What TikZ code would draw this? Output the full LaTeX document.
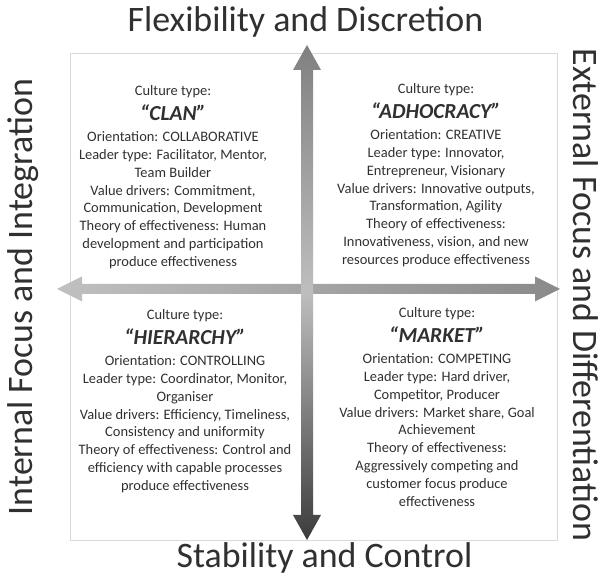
\documentclass[tikz,border=0pt]{standalone}
\usepackage{fontspec}
\setmainfont{Carlito}
\definecolor{axtop}{HTML}{808080}
\definecolor{axmid}{HTML}{BEBEBE}
\definecolor{axbot}{HTML}{3C3C3C}
\definecolor{axleft}{HTML}{C0C0C0}
\definecolor{axright}{HTML}{8A8A8A}
\definecolor{txt}{HTML}{303030}
\tikzset{
  axislabel/.style={font=\fontsize{36}{40}\selectfont, text=txt, inner sep=0pt, anchor=base},
  quad/.style={align=center, font=\fontsize{14.5}{18}\selectfont, text=txt, inner sep=0pt, anchor=north},
}
\newcommand{\ctype}[1]{{\fontsize{21.5}{22}\selectfont\bfseries\itshape “#1”}}
\begin{document}
\begin{tikzpicture}[x=1bp,y=1bp]
\useasboundingbox (0,0) rectangle (600,577);
\draw[color=black!15, line width=0.8bp] (70,37) rectangle (557,524);

\coordinate (flex) at (307,532);
\coordinate (stab) at (307,37);
\coordinate (intl) at (57,288);
\coordinate (extl) at (560,288);

\shade[left color=axleft, right color=axright]
  (intl) -- ++(25,12.5) -- ++(0,-7.5) -- ++(453,0) -- ++(0,7.5) -- (extl)
  -- ++(-25,-12.5) -- ++(0,7.5) -- ++(-453,0) -- ++(0,-7.5) -- cycle;
\shade[top color=axtop, bottom color=axbot, middle color=axmid]
  (flex) -- ++(14,-25) -- ++(-8,0) -- ++(0,-445) -- ++(8,0) -- (stab)
  -- ++(-14,25) -- ++(8,0) -- ++(0,445) -- ++(-8,0) -- cycle;

\node[axislabel] (top) at (305.5,545) {Flexibility and Discretion};
\node[axislabel] (bottom) at (324.5,9) {Stability and Control};
\node[axislabel, rotate=90] (left) at (32,280) {Internal Focus and Integration};
\node[axislabel, rotate=-90] (right) at (573,282) {External Focus and Differentiation};

\node[quad] (clan) at (173,492) {Culture type:\\[6pt] \ctype{CLAN}\\[3pt]
  Orientation: COLLABORATIVE\\ Leader type: Facilitator, Mentor,\\ Team Builder\\
  Value drivers: Commitment,\\ Communication, Development\\
  Theory of effectiveness: Human\\ development and participation\\ produce effectiveness};
\node[quad] (adhoc) at (436,494) {Culture type:\\[6pt] \ctype{ADHOCRACY}\\[3pt]
  Orientation: CREATIVE\\ Leader type: Innovator,\\ Entrepreneur, Visionary\\
  Value drivers: Innovative outputs,\\ Transformation, Agility\\
  Theory of effectiveness:\\ Innovativeness, vision, and new\\ resources produce effectiveness};
\node[quad] (hier) at (185,268) {Culture type:\\[6pt] \ctype{HIERARCHY}\\[3pt]
  Orientation: CONTROLLING\\ Leader type: Coordinator, Monitor,\\ Organiser\\
  Value drivers: Efficiency, Timeliness,\\ Consistency and uniformity\\
  Theory of effectiveness: Control and\\ efficiency with capable processes\\ produce effectiveness};
\node[quad] (market) at (437,270) {Culture type:\\[6pt] \ctype{MARKET}\\[3pt]
  Orientation: COMPETING\\ Leader type: Hard driver,\\ Competitor, Producer\\
  Value drivers: Market share, Goal\\ Achievement\\
  Theory of effectiveness:\\ Aggressively competing and\\ customer focus produce\\ effectiveness};
\end{tikzpicture}
\end{document}
